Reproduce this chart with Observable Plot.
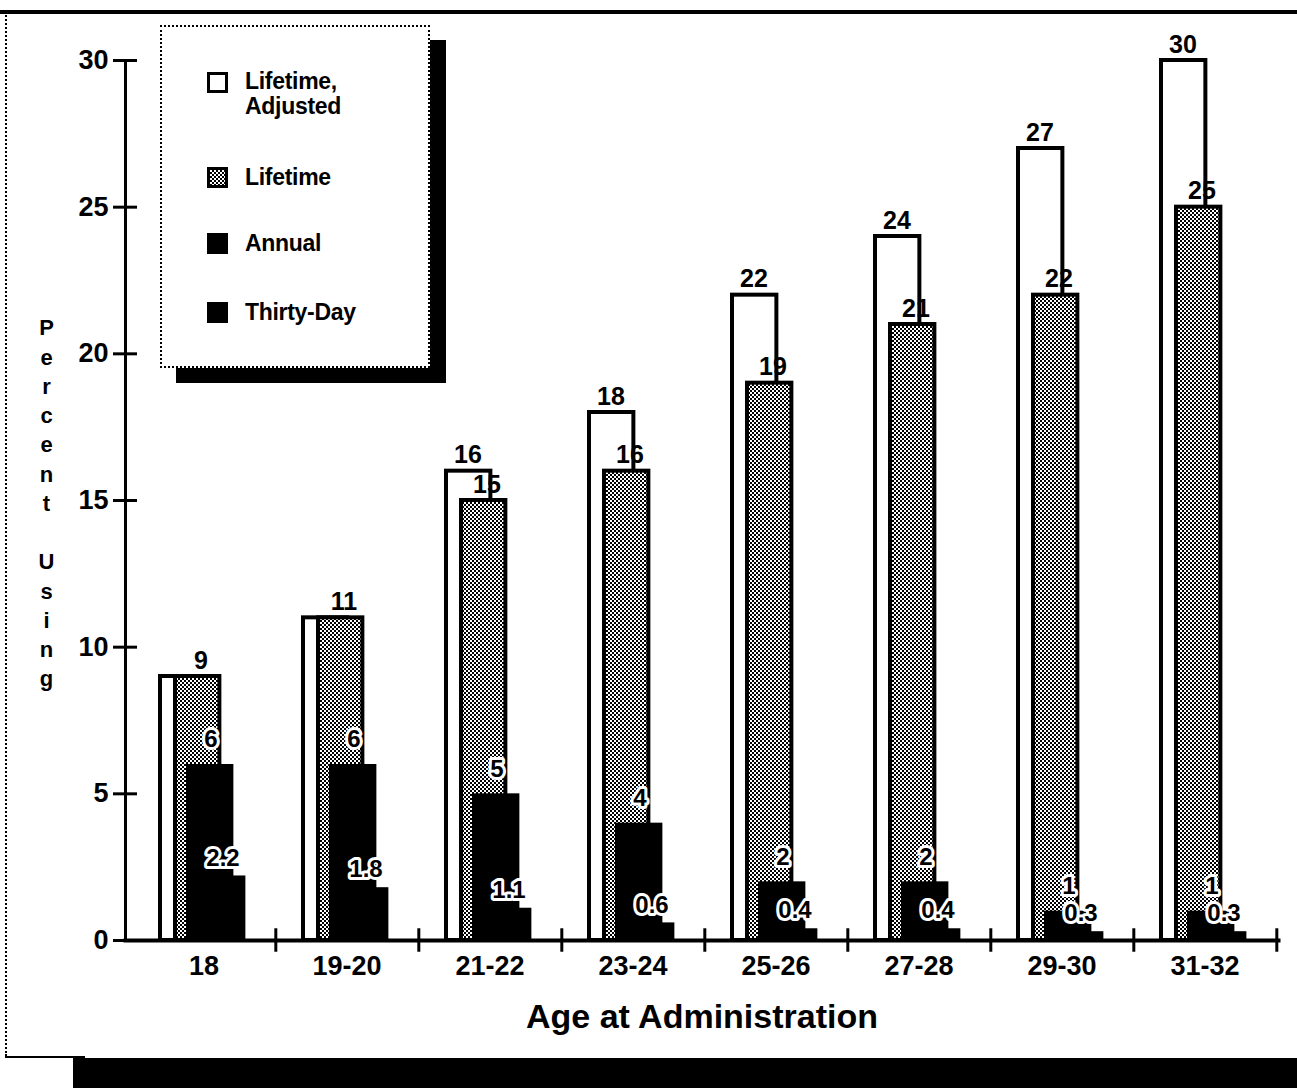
<!DOCTYPE html>
<html><head><meta charset="utf-8">
<script src="https://cdn.jsdelivr.net/npm/d3@7"></script>
<script src="https://cdn.jsdelivr.net/npm/@observablehq/plot@0.6"></script>
<style>
body{margin:0;background:#fff;}
#wrap{position:relative;width:1297px;height:1088px;overflow:hidden;font-family:"Liberation Sans",Arial,Helvetica,sans-serif;font-weight:bold;color:#000;}
#wrap svg{position:absolute;left:0;top:0;}
.deco{position:absolute;}
#legend{position:absolute;left:160px;top:25px;width:266px;height:339px;border:2px dotted #000;background:#fff;box-shadow:16px 15px 0 #000;}
#legend .sw{position:absolute;left:45px;width:15px;height:15px;border:3px solid #000;background:#fff;}
#legend .lb{position:absolute;left:83px;font-size:23px;line-height:25px;white-space:nowrap;letter-spacing:-0.3px;}
</style></head>
<body>
<div id="wrap"></div>
<script>
const ages = ["18","19-20","21-22","23-24","25-26","27-28","29-30","31-32"];
const lifetimeAdjusted = [9,11,16,18,22,24,27,30];
const lifetime = [9,11,15,16,19,21,22,25];
const annual = [6,6,5,4,2,2,1,1];
const thirtyDay = [2.2,1.8,1.1,0.6,0.4,0.4,0.3,0.3];
const yTicks = [0,5,10,15,20,25,30];
const seriesNames = ["Lifetime,\nAdjusted","Lifetime","Annual","Thirty-Day"];
const yTitle = "Percent Using";
const xTitle = "Age at Administration";

const rows = ages.map((a,i)=>({age:a, adj:lifetimeAdjusted[i], life:lifetime[i], ann:annual[i], thirty:thirtyDay[i]}));
const xRange = [129,1278];
const bw = (xRange[1]-xRange[0])/ages.length;
const font = '"Liberation Sans",Arial,Helvetica,sans-serif';
const stacked = yTitle.split(" ").map(w=>w.split("").join("\n")).join("\n\n");

const chart = Plot.plot({
  width:1297, height:1088,
  marginLeft:125, marginRight:19, marginTop:60, marginBottom:148,
  style:{fontFamily:font, fontWeight:"bold", color:"#000", background:"transparent"},
  x:{domain:ages, range:xRange, padding:0, label:null},
  y:{domain:[0,30], label:null},
  marks:[
    Plot.rectY(rows,{x:"age", y:"adj", fill:"#fff", stroke:"#000", strokeWidth:4, insetLeft:28, insetRight:bw-73}),
    Plot.rectY(rows,{x:"age", y:"life", fill:"url(#stip)", stroke:"#000", strokeWidth:4, insetLeft:43, insetRight:bw-88}),
    Plot.rectY(rows,{x:"age", y:"ann", fill:"#000", insetLeft:54, insetRight:bw-102}),
    Plot.rectY(rows,{x:"age", y:"thirty", fill:"#000", insetLeft:60, insetRight:bw-114}),
    Plot.frame({anchor:"left", strokeWidth:3}),
    Plot.frame({anchor:"bottom", strokeWidth:4}),
    Plot.axisY({ticks:yTicks, anchor:"left", tickSize:24, dx:12, tickPadding:5, fontSize:27, fontWeight:"bold", strokeWidth:3, label:null}),
    Plot.axisX({tickSize:0, tickPadding:15, fontSize:27, fontWeight:"bold", label:null}),
    Plot.ruleX(ages,{x:d=>d, dx:bw/2, y1:-0.4, y2:0.4, strokeWidth:3}),
    Plot.text(rows.filter(d=>d.adj!==d.life),{x:"age", y:"adj", text:d=>String(d.adj), dx:-22, dy:-8, lineAnchor:"bottom", fontSize:25, fontWeight:"bold"}),
    Plot.text(rows,{x:"age", y:"life", text:d=>String(d.life), dx:-3, dy:-8, lineAnchor:"bottom", fontSize:25, fontWeight:"bold"}),
    Plot.text(rows,{x:"age", y:"ann", text:d=>String(d.ann), dx:7, dy:-25, fontSize:24, fontWeight:"bold", fill:"#000", stroke:"#fff", strokeWidth:6}),
    Plot.text(rows,{x:"age", y:"thirty", text:d=>String(d.thirty), dx:19, dy:-18, fontSize:24, fontWeight:"bold", fill:"#000", stroke:"#fff", strokeWidth:6}),
    Plot.text([stacked],{text:d=>d, frameAnchor:"left", dx:-79, dy:1, lineHeight:1.33, fontSize:22, fontWeight:"bold", textAnchor:"middle", lineAnchor:"middle"}),
    Plot.text([xTitle],{text:d=>d, frameAnchor:"bottom", dy:77, lineAnchor:"middle", fontSize:34, fontWeight:"bold"})
  ]
});

// stipple pattern for the Lifetime bars
const defs = d3.select(chart).insert("defs",":first-child");
const pat = defs.append("pattern").attr("id","stip").attr("patternUnits","userSpaceOnUse").attr("width",4).attr("height",4);
pat.append("rect").attr("width",4).attr("height",4).attr("fill","#fff");
pat.append("rect").attr("x",0).attr("y",0).attr("width",2).attr("height",2).attr("fill","#000");
pat.append("rect").attr("x",2).attr("y",2).attr("width",2).attr("height",2).attr("fill","#000");

const wrap = document.getElementById("wrap");
wrap.appendChild(chart);

// page frame decorations
function deco(css){const d=document.createElement("div");d.className="deco";d.style.cssText=css;wrap.appendChild(d);}
deco("left:0;top:10px;width:1297px;height:4px;background:#000;");
deco("left:5px;top:12px;height:1044px;border-left:2px dotted #000;");
deco("left:5px;top:1056px;width:80px;height:2px;background:#000;");
deco("left:73px;top:1058px;width:1224px;height:30px;background:#000;");

// legend
const legend = document.createElement("div");
legend.id = "legend";
wrap.appendChild(legend);
const swStyles = [
  "background:#fff;",
  "background:repeating-conic-gradient(#000 0 25%, #fff 0 50%) 0 0/4px 4px;",
  "background:#000;",
  "background:#000;"
];
const swTops = [45,140,206,275];
const lbTops = [42,138,204,273];
seriesNames.forEach((name,i)=>{
  const sw=document.createElement("div");sw.className="sw";sw.style.cssText=`top:${swTops[i]}px;${swStyles[i]}`;legend.appendChild(sw);
  const lb=document.createElement("div");lb.className="lb";lb.style.top=lbTops[i]+"px";
  lb.innerHTML=name.split("\n").join("<br>");legend.appendChild(lb);
});
</script>
</body></html>
